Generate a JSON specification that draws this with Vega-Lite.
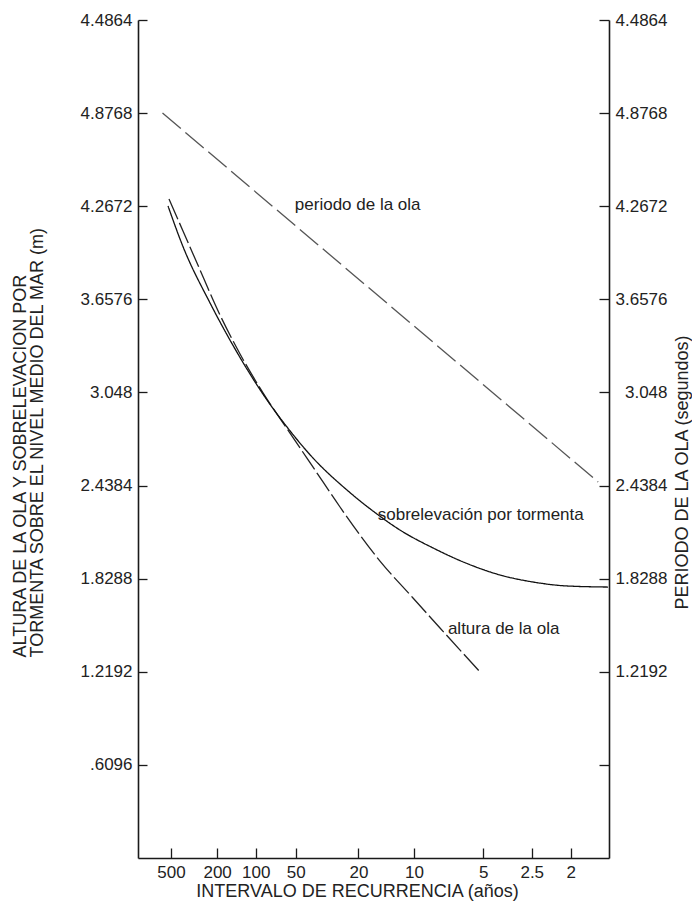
{
  "$schema": "https://vega.github.io/schema/vega-lite/v6.json",
  "width": 471,
  "height": 838,
  "autosize": {"type": "none"},
  "padding": {"left": 138, "top": 20, "right": 83, "bottom": 53},
  "background": "white",
  "config": {
    "view": {"stroke": null},
    "font": "Liberation Sans",
    "axis": {
      "grid": false,
      "domainColor": "#1a1a1a",
      "domainWidth": 1.6,
      "tickColor": "#1a1a1a",
      "tickWidth": 1.3,
      "labelFont": "Liberation Sans",
      "labelFontSize": 17,
      "labelColor": "#222222",
      "labelOverlap": false,
      "labelFlush": false,
      "titleFont": "Liberation Sans",
      "titleFontSize": 18,
      "titleFontWeight": "normal",
      "titleColor": "#222222"
    }
  },
  "datasets": {
    "curvas": [
      {"serie": "periodo", "pos": 5.2, "m": 4.877},
      {"serie": "periodo", "pos": 97.7, "m": 2.462},
      {"serie": "altura", "pos": 6.58, "m": 4.314},
      {"serie": "altura", "pos": 9.55, "m": 4.105},
      {"serie": "altura", "pos": 12.53, "m": 3.895},
      {"serie": "altura", "pos": 17.41, "m": 3.555},
      {"serie": "altura", "pos": 21.66, "m": 3.3},
      {"serie": "altura", "pos": 26.54, "m": 3.045},
      {"serie": "altura", "pos": 32.27, "m": 2.782},
      {"serie": "altura", "pos": 37.58, "m": 2.54},
      {"serie": "altura", "pos": 42.89, "m": 2.298},
      {"serie": "altura", "pos": 51.38, "m": 1.944},
      {"serie": "altura", "pos": 58.39, "m": 1.702},
      {"serie": "altura", "pos": 64.12, "m": 1.506},
      {"serie": "altura", "pos": 72.82, "m": 1.211},
      {"serie": "sobrelevacion", "pos": 6.37, "m": 4.269},
      {"serie": "sobrelevacion", "pos": 9.55, "m": 4.003},
      {"serie": "sobrelevacion", "pos": 15.29, "m": 3.634},
      {"serie": "sobrelevacion", "pos": 19.53, "m": 3.391},
      {"serie": "sobrelevacion", "pos": 23.14, "m": 3.201},
      {"serie": "sobrelevacion", "pos": 26.54, "m": 3.037},
      {"serie": "sobrelevacion", "pos": 31.63, "m": 2.822},
      {"serie": "sobrelevacion", "pos": 37.15, "m": 2.619},
      {"serie": "sobrelevacion", "pos": 44.37, "m": 2.409},
      {"serie": "sobrelevacion", "pos": 50.74, "m": 2.252},
      {"serie": "sobrelevacion", "pos": 55.63, "m": 2.147},
      {"serie": "sobrelevacion", "pos": 62.63, "m": 2.03},
      {"serie": "sobrelevacion", "pos": 69.85, "m": 1.928},
      {"serie": "sobrelevacion", "pos": 76.86, "m": 1.853},
      {"serie": "sobrelevacion", "pos": 83.86, "m": 1.807},
      {"serie": "sobrelevacion", "pos": 91.08, "m": 1.781},
      {"serie": "sobrelevacion", "pos": 99.79, "m": 1.774}
    ],
    "rotulos": [
      {"label": "periodo de la ola", "pos": 33.3, "m": 4.275},
      {"label": "sobrelevación por tormenta", "pos": 50.9, "m": 2.246},
      {"label": "altura de la ola", "pos": 65.8, "m": 1.499}
    ]
  },
  "encoding": {
    "x": {
      "field": "pos",
      "type": "quantitative",
      "scale": {"domain": [0, 100], "nice": false, "zero": false},
      "axis": {
        "orient": "bottom",
        "values": [7.0, 16.8, 25.0, 33.5, 46.8, 58.6, 73.3, 83.6, 91.9],
        "labelExpr": "datum.value == 7 ? '500' : datum.value == 16.8 ? '200' : datum.value == 25 ? '100' : datum.value == 33.5 ? '50' : datum.value == 46.8 ? '20' : datum.value == 58.6 ? '10' : datum.value == 73.3 ? '5' : datum.value == 83.6 ? '2.5' : '2'",
        "tickSize": -10,
        "labelPadding": 16,
        "labelBaseline": "top",
        "title": "INTERVALO DE RECURRENCIA (años)",
        "titleX": 219,
        "titleY": 33,
        "titleAnchor": "start",
        "titleAlign": "center",
        "titleBaseline": "middle"
      }
    }
  },
  "layer": [
    {
      "data": {"name": "curvas"},
      "mark": {"type": "line", "strokeWidth": 1.3, "interpolate": "monotone"},
      "encoding": {
        "y": {
          "field": "m",
          "type": "quantitative",
          "scale": {"domain": [0, 5.4864], "nice": false, "zero": true},
          "axis": {
            "orient": "left",
            "values": [0.6096, 1.2192, 1.8288, 2.4384, 3.048, 3.6576, 4.2672, 4.8768, 5.4864],
            "labelExpr": "['', '.6096', '1.2192', '1.8288', '2.4384', '3.048', '3.6576', '4.2672', '4.8768', '4.4864'][round(datum.value / 0.6096)]",
            "tickSize": -9,
            "labelPadding": 15,
            "labelBaseline": "middle",
            "title": ["ALTURA DE LA OLA Y SOBRELEVACION POR", "TORMENTA SOBRE EL NIVEL MEDIO DEL MAR (m)"],
            "titleAngle": 270,
            "titleAlign": "left",
            "titleBaseline": "top",
            "titleX": -127,
            "titleY": 637,
            "titleLineHeight": 17
          }
        },
        "strokeDash": {
          "field": "serie",
          "type": "nominal",
          "scale": {"domain": ["periodo", "altura", "sobrelevacion"], "range": [[24, 6], [22, 4], [1, 0]]},
          "legend": null
        },
        "color": {
          "field": "serie",
          "type": "nominal",
          "scale": {"domain": ["periodo", "altura", "sobrelevacion"], "range": ["#555555", "#222222", "#111111"]},
          "legend": null
        }
      }
    },
    {
      "data": {"name": "rotulos"},
      "mark": {"type": "text", "align": "left", "baseline": "middle", "fontSize": 17, "font": "Liberation Sans", "color": "#222222"},
      "encoding": {
        "y": {
          "field": "m",
          "type": "quantitative",
          "scale": {"domain": [0, 5.4864], "nice": false, "zero": true},
          "axis": {
            "orient": "right",
            "values": [0.6096, 1.2192, 1.8288, 2.4384, 3.048, 3.6576, 4.2672, 4.8768, 5.4864],
            "labelExpr": "['', '', '1.2192', '1.8288', '2.4384', '3.048', '3.6576', '4.2672', '4.8768', '4.4864'][round(datum.value / 0.6096)]",
            "tickSize": -10,
            "labelPadding": 68,
            "labelAlign": "right",
            "labelBaseline": "middle",
            "title": "PERIODO DE LA OLA (segundos)",
            "titleAngle": 270,
            "titleAlign": "center",
            "titleBaseline": "middle",
            "titleX": 73,
            "titleY": 452
          }
        },
        "text": {"field": "label", "type": "nominal"}
      }
    }
  ],
  "resolve": {"axis": {"y": "independent"}}
}
